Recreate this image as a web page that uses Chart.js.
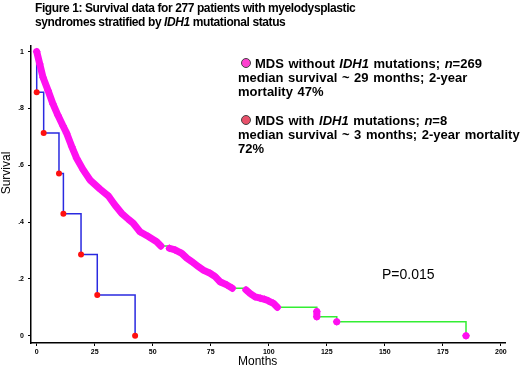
<!DOCTYPE html>
<html>
<head>
<meta charset="utf-8">
<script src="https://cdn.jsdelivr.net/npm/chart.js@4"></script>
<style>
  body { margin: 0; background: #fff; }
  #wrap { position: relative; width: 520px; height: 366px; overflow: hidden; }
  #chart { position: absolute; left: 0; top: 0; }
  .txt { position: absolute; color: #000; white-space: nowrap; font-family: "Liberation Sans", Arial, sans-serif; }
  #title { left: 35px; top: 2px; font-weight: bold; font-size: 12px; line-height: 13.5px; letter-spacing: -0.4px; }
  .leg { left: 238px; font-weight: bold; font-size: 13px; line-height: 14px; letter-spacing: 0px; word-spacing: 1px; }
  .dot { display: inline-block; width: 8px; height: 8px; border-radius: 50%; border: 1px solid #444; margin: 0 4px 0 3px; vertical-align: 0px; }
  #pval { left: 382px; top: 266px; font-size: 14px; }
  #xlab { left: 238px; top: 354px; font-size: 12px; }
  #ylab { left: -19px; top: 166px; font-size: 12px; transform: rotate(-90deg); width: 50px; text-align: center; }
</style>
</head>
<body>
<div id="wrap">
  <canvas id="chart" width="520" height="366"></canvas>
  <div class="txt" id="title">Figure 1: Survival data for 277 patients with myelodysplastic<br>syndromes stratified by <i>IDH1</i> mutational status</div>
  <div class="txt leg" style="top:57px"><span class="dot" style="background:#ff3fd0"></span>MDS without <i>IDH1</i> mutations; <i>n</i>=269<br>median survival ~ 29 months; 2-year<br>mortality 47%</div>
  <div class="txt leg" style="top:114px"><span class="dot" style="background:#e8506a"></span>MDS with <i>IDH1</i> mutations; <i>n</i>=8<br>median survival ~ 3 months; 2-year mortality<br>72%</div>
  <div class="txt" id="pval">P=0.015</div>
  <div class="txt" id="xlab">Months</div>
  <div class="txt" id="ylab">Survival</div>
</div>
<script>
// tick values
const xTicks = [0, 25, 50, 75, 100, 125, 150, 175, 200];
const yTicks = [0, 0.2, 0.4, 0.6, 0.8, 1];

// MDS with IDH1 mutations (n=8), Kaplan-Meier steps
const idhMonths = [0, 0, 3, 9.6, 11.5, 19.1, 26.1, 42.4];
const idhSurv = [1, 0.857, 0.714, 0.571, 0.429, 0.286, 0.143, 0];

// MDS without IDH1 mutations (n=269), Kaplan-Meier steps
const wtMonths = [0, 1.3, 2.7, 4.9, 7.0, 9.2, 11.3, 12.9, 15.1, 17.2, 20.1, 23, 27.3, 30.9, 33.7, 36.6, 39.5, 41.6, 44.5, 48.1, 51.7, 53.5,
  57.2, 59.6, 62.5, 64.7, 66.8, 69.7, 71.8, 74.7, 76.9, 79, 81.9, 84.3,
  90.2, 91.9, 94.1, 96.3, 98.2, 99.8, 102, 103.7, 120.7, 129.3, 185];
const wtSurv = [1, 0.957, 0.91, 0.863, 0.816, 0.775, 0.739, 0.713, 0.666, 0.625, 0.583, 0.548, 0.516, 0.492, 0.46, 0.431, 0.41, 0.396, 0.366, 0.349, 0.331, 0.316,
  0.308, 0.302, 0.29, 0.273, 0.261, 0.243, 0.231, 0.22, 0.208, 0.19, 0.179, 0.167,
  0.161, 0.149, 0.137, 0.132, 0.128, 0.123, 0.114, 0.1, 0.067, 0.049, 0];

// censored marks (null = break in the dense run)
const censMonths = [0, 1.3, 2.7, 4.9, 7.0, 9.2, 11.3, 12.9, 15.1, 17.2, 20.1, 23, 27.3, 30.9, 33.7, 36.6, 39.5, 41.6, 44.5, 48.1, 51.7, 53.5, null,
  57.2, 59.6, 62.5, 64.7, 66.8, 69.7, 71.8, 74.7, 76.9, 79, 81.9, 84.3, null,
  90.2, 91.9, 94.1, 96.3, 98.2, 99.8, 102, 103.7, null, 120.7, 120.7, null, 129.3, null, 185];
const censSurv = [1, 0.957, 0.91, 0.863, 0.816, 0.775, 0.739, 0.713, 0.666, 0.625, 0.583, 0.548, 0.516, 0.492, 0.46, 0.431, 0.41, 0.396, 0.366, 0.349, 0.331, 0.316, null,
  0.308, 0.302, 0.29, 0.273, 0.261, 0.243, 0.231, 0.22, 0.208, 0.19, 0.179, 0.167, null,
  0.161, 0.149, 0.137, 0.132, 0.128, 0.123, 0.114, 0.1, null, 0.085, 0.067, null, 0.049, null, 0];

const pts = (xs, ys) => xs.map((x, i) => ({ x: x === null ? NaN : x, y: ys[i] === null ? NaN : ys[i] }));

// runs of dense censor marks: the green step under them is hidden
const runs = [];
let cur = [];
censMonths.forEach(m => {
  if (m === null) { if (cur.length > 1) runs.push([cur[0], cur[cur.length - 1]]); cur = []; }
  else cur.push(m);
});
if (cur.length > 1) runs.push([cur[0], cur[cur.length - 1]]);
const underBand = (a, b) => runs.some(r => a >= r[0] && b <= r[1]);

const ctx = document.getElementById('chart').getContext('2d');
new Chart(ctx, {
  type: 'scatter',
  data: {
    datasets: [
      {
        data: pts(censMonths, censSurv),
        showLine: true,
        spanGaps: false,
        borderColor: '#ff10f0',
        borderWidth: 7,
        borderCapStyle: 'round',
        borderJoinStyle: 'round',
        pointStyle: 'rectRot',
        pointRadius: 4,
        pointBackgroundColor: '#ff10f0',
        pointBorderWidth: 0
      },
      {
        data: pts(wtMonths, wtSurv),
        showLine: true,
        stepped: 'before',
        borderColor: '#33ee33',
        borderWidth: 1.5,
        pointRadius: 0,
        segment: {
          borderColor: c => underBand(wtMonths[c.p0DataIndex], wtMonths[c.p1DataIndex]) ? 'rgba(0,0,0,0)' : '#33ee33'
        }
      },
      {
        data: pts(idhMonths, idhSurv),
        showLine: true,
        stepped: 'before',
        borderColor: '#2a2ae0',
        borderWidth: 1.5,
        pointRadius: idhMonths.map((m, i) => i === 0 ? 0 : 3),
        pointBackgroundColor: '#ff1010',
        pointBorderWidth: 0
      }
    ]
  },
  options: {
    responsive: false,
    animation: false,
    devicePixelRatio: 1,
    layout: { padding: { top: 46, right: 15, left: 0, bottom: 0 } },
    plugins: { legend: { display: false }, tooltip: { enabled: false } },
    scales: {
      x: {
        type: 'linear',
        min: -2.46,
        max: 201.8,
        afterBuildTicks: scale => { scale.ticks = xTicks.map(v => ({ value: v })); },
        afterFit: scale => { scale.height = 23; },
        grid: { display: true, drawOnChartArea: false, tickLength: 3, color: '#000' },
        border: { display: true, color: '#000', width: 1.5 },
        ticks: { color: '#000', padding: 2, maxRotation: 0, font: { size: 7, weight: 'bold', family: 'Liberation Sans' } }
      },
      y: {
        min: -0.0257,
        max: 1.02,
        afterBuildTicks: scale => { scale.ticks = yTicks.map(v => ({ value: v })); },
        afterFit: scale => { scale.width = 31; },
        grid: { display: true, drawOnChartArea: false, tickLength: 3, color: '#000' },
        border: { display: true, color: '#000', width: 1.5 },
        ticks: {
          color: '#000', padding: 4,
          font: { size: 7, weight: 'bold', family: 'Liberation Sans' },
          callback: v => v === 0 ? '0' : v === 1 ? '1' : String(Math.round(v * 10) / 10).replace('0.', '.')
        }
      }
    }
  }
});
</script>
</body>
</html>
